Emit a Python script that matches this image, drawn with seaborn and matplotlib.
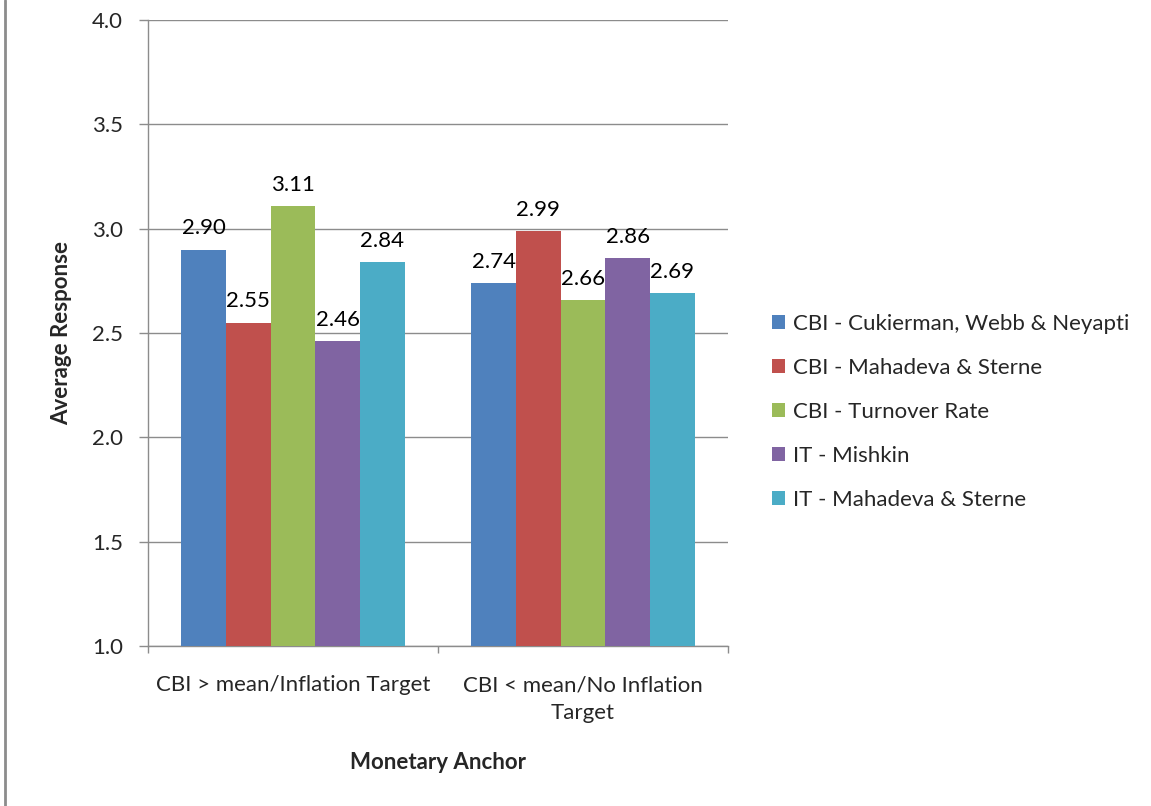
import matplotlib
matplotlib.use("Agg")
import matplotlib.pyplot as plt
from matplotlib.lines import Line2D
import seaborn as sns
import pandas as pd

categories = ["CBI > mean/Inflation Target", "CBI < mean/No Inflation\nTarget"]
series = [
    "CBI - Cukierman, Webb & Neyapti",
    "CBI - Mahadeva & Sterne",
    "CBI - Turnover Rate",
    "IT - Mishkin",
    "IT - Mahadeva & Sterne",
]
values_high = [2.90, 2.55, 3.11, 2.46, 2.84]
values_low = [2.74, 2.99, 2.66, 2.86, 2.69]
colors = ["#4F81BD", "#C0504D", "#9BBB59", "#8064A2", "#4BACC6"]
y_ticks = [1.0, 1.5, 2.0, 2.5, 3.0, 3.5, 4.0]

df = pd.DataFrame({
    "Monetary Anchor": [categories[0]] * 5 + [categories[1]] * 5,
    "Measure": series * 2,
    "Average Response": values_high + values_low,
})

sns.set_theme(style="white")
plt.rcParams["font.family"] = ["Lato", "DejaVu Sans"]

fig = plt.figure(figsize=(11.51, 8.06), dpi=100)
ax = fig.add_axes([148 / 1151, 160 / 806, 580 / 1151, 626 / 806])

sns.barplot(
    data=df, x="Monetary Anchor", y="Average Response", hue="Measure",
    hue_order=series, palette=colors, saturation=1, width=0.77,
    ax=ax, zorder=3, linewidth=0,
)

ax.set_ylim(1.0, 4.0)
ax.set_xlim(-0.5, 1.5)
ax.set_yticks(y_ticks)
ax.set_yticklabels([f"{v:.1f}" for v in y_ticks], fontsize=16)
ax.yaxis.grid(True, color="#8C8C8C", linewidth=1, zorder=0)
ax.set_axisbelow(True)

for cont in ax.containers:
    ax.bar_label(cont, fmt="%.2f", padding=8, fontsize=16, color="#000000")

ax.tick_params(axis="y", which="major", direction="out", length=6.5, width=1,
               color="#8C8C8C", pad=11.5, left=True)
ax.tick_params(axis="x", which="major", length=0, pad=21, labelsize=16)
for lbl in ax.get_xticklabels():
    lbl.set_linespacing(1.5)
ax.set_xticks([-0.5, 0.5, 1.5], minor=True)
ax.tick_params(axis="x", which="minor", direction="out", length=5, width=1,
               color="#8C8C8C", bottom=True)

for side in ["top", "right"]:
    ax.spines[side].set_visible(False)
for side in ["left", "bottom"]:
    ax.spines[side].set_color("#8C8C8C")
    ax.spines[side].set_linewidth(1)

ax.set_ylabel("Average Response", fontsize=16, fontweight="bold", labelpad=14)
ax.set_xlabel("Monetary Anchor", fontsize=16, fontweight="bold", labelpad=21)

handles, labels = ax.get_legend_handles_labels()
ax.legend(handles, labels, loc="center left", bbox_to_anchor=(772 / 1151, 394 / 806),
          bbox_transform=fig.transFigure, frameon=False, fontsize=16,
          handlelength=0.6, handleheight=0.6, handletextpad=0.35,
          labelspacing=1.08, borderaxespad=0, borderpad=0)

fig.add_artist(Line2D([4.5 / 1151, 4.5 / 1151], [0, 1], transform=fig.transFigure,
                      color="#8C8C8C", linewidth=2))

fig.savefig("out.png", dpi=100, facecolor="white")
